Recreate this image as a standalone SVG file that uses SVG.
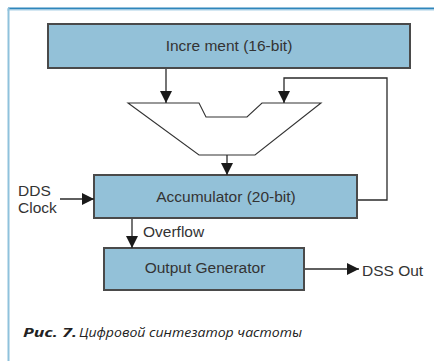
<svg xmlns="http://www.w3.org/2000/svg" width="434" height="361" viewBox="0 0 434 361">
  <defs>
    <marker id="arr" markerUnits="userSpaceOnUse" markerWidth="12" markerHeight="12" viewBox="0 0 12 12" refX="12" refY="6" orient="auto">
      <path d="M0,0 L12,6 L0,12 z" fill="#1a1a1a"/>
    </marker>
  </defs>
  <style>
    .box { fill: #93c1d8; stroke: #4a4a4a; stroke-width: 2; }
    .lbl { font-family: "Liberation Sans", Arial, sans-serif; font-size: 15.5px; fill: #333; }
    .con { fill: none; stroke: #2a2a2a; stroke-width: 1.3; }
    .cap { font-family: "Open Sans", "Noto Sans", sans-serif; font-style: italic; font-size: 12px; fill: #222; }
  </style>
  <rect width="434" height="361" fill="#ffffff"/>
  <g id="frame">
    <line x1="8" y1="8.5" x2="434" y2="8.5" stroke="#2f86bb" stroke-width="2"/>
    <line x1="7" y1="10" x2="434" y2="10" stroke="#a9d0e6" stroke-width="1"/>
    <line x1="8.5" y1="8" x2="8.5" y2="361" stroke="#8fc2dc" stroke-width="2"/>
  </g>
  <g id="increment">
    <rect class="box" x="48" y="24" width="362" height="44"/>
    <text class="lbl" x="229" y="51" text-anchor="middle">Incre ment (16-bit)</text>
  </g>
  <g id="adder">
    <path d="M128,103 L199,103 L206,117 L247,117 L262,103 L321,103 L255,155 L199,155 Z" fill="#ffffff" stroke="#333" stroke-width="1.1"/>
  </g>
  <g id="accumulator">
    <rect class="box" x="94" y="175" width="263" height="43"/>
    <text class="lbl" x="226" y="202" text-anchor="middle">Accumulator (20-bit)</text>
  </g>
  <g id="output-generator">
    <rect class="box" x="104" y="248" width="200" height="42"/>
    <text class="lbl" x="205" y="273" text-anchor="middle">Output Generator</text>
  </g>
  <g id="connectors">
    <path class="con" d="M166,69 V103" marker-end="url(#arr)"/>
    <path class="con" d="M358,200 H387 V78 H284 V103" marker-end="url(#arr)"/>
    <path class="con" d="M227,155 V175" marker-end="url(#arr)"/>
    <path class="con" d="M60,199 H94" marker-end="url(#arr)"/>
    <path class="con" d="M132,219 V248" marker-end="url(#arr)"/>
    <path class="con" d="M305,269 H359" marker-end="url(#arr)"/>
  </g>
  <g id="labels">
    <text class="lbl" x="18" y="196" font-size="15">DDS</text>
    <text class="lbl" x="18" y="213" font-size="15">Clock</text>
    <text class="lbl" x="143" y="237">Overflow</text>
    <text class="lbl" x="362" y="276">DSS Out</text>
  </g>
  <g id="caption">
    <text class="cap" x="23" y="337" font-weight="bold" textLength="54" lengthAdjust="spacingAndGlyphs">Рис. 7.</text>
    <text class="cap" x="79" y="337" textLength="223" lengthAdjust="spacingAndGlyphs">Цифровой синтезатор частоты</text>
  </g>
</svg>
